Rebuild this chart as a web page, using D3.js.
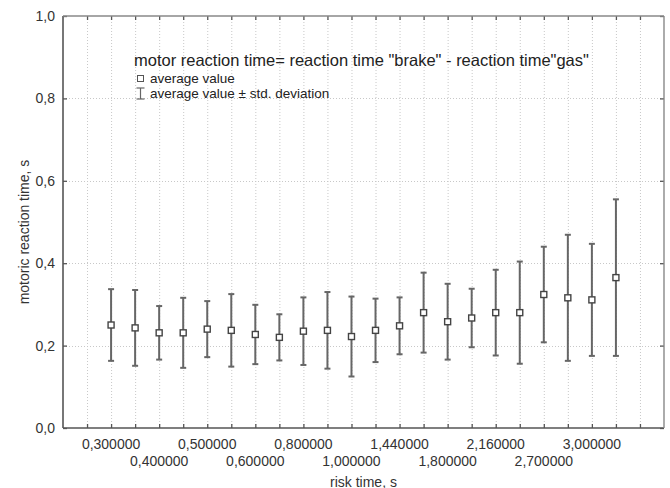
<!DOCTYPE html>
<html><head><meta charset="utf-8">
<script src="https://cdn.jsdelivr.net/npm/d3@7"></script>
<style>body{margin:0;background:#fff}svg{display:block;font-family:"Liberation Sans",Arial,sans-serif}</style>
</head><body><svg id="c" width="670" height="488"></svg>
<script>
// ---- data ----
const riskLabels = ["0,300000","0,400000","0,500000","0,600000","0,800000","1,000000","1,440000","1,800000","2,160000","2,700000","3,000000"];
const means = [0.250,0.243,0.231,0.231,0.240,0.237,0.227,0.220,0.235,0.237,0.222,0.237,0.248,0.280,0.258,0.267,0.280,0.280,0.324,0.316,0.311,0.365];
const sds   = [0.087,0.092,0.065,0.085,0.068,0.088,0.072,0.056,0.082,0.093,0.097,0.077,0.069,0.097,0.092,0.071,0.104,0.124,0.116,0.153,0.136,0.190];
const yTicks = [0,0.2,0.4,0.6,0.8,1.0];
const legendTitle = 'motor reaction time= reaction time "brake" - reaction time"gas"';
const legendItems = ["average value","average value \u00b1 std. deviation"];
const xTitle = "risk time, s";
const yTitle = "motoric reaction time, s";

// ---- layout ----
const L = 63, R = 664, T = 16, B = 428;
const nSlots = 25;
const svg = d3.select("#c");
const x = d3.scaleLinear().domain([0, nSlots]).range([L, R]);
const y = d3.scaleLinear().domain([0, 1]).range([B, T]);
const slotOf = i => i + 2;            // point i sits on slot i+2
const fmt = d3.format(".1f");

// grid
const grid = svg.append("g").attr("stroke", "#c8c8c8").attr("stroke-dasharray", "1,2").attr("stroke-width", 1);
grid.selectAll("line.v").data(d3.range(1, nSlots)).join("line")
  .attr("x1", d => x(d) + 0.5).attr("x2", d => x(d) + 0.5).attr("y1", T).attr("y2", B);
grid.selectAll("line.h").data(yTicks.slice(1, -1)).join("line")
  .attr("y1", d => Math.round(y(d)) + 0.5).attr("y2", d => Math.round(y(d)) + 0.5).attr("x1", L).attr("x2", R);

// axes (inside ticks)
const slots = d3.range(1, nSlots);
const axB = svg.append("g").attr("transform", `translate(0,${B})`)
  .call(d3.axisBottom(x).tickValues(slots).tickSize(-4).tickFormat(""));
const axT = svg.append("g").attr("transform", `translate(0,${T})`)
  .call(d3.axisTop(x).tickValues(slots).tickSize(-4).tickFormat(""));
const axL = svg.append("g").attr("transform", `translate(${L},0)`)
  .call(d3.axisLeft(y).tickValues(yTicks).tickSize(-4).tickPadding(8).tickFormat(d => fmt(d).replace(".", ",")));
const axR = svg.append("g").attr("transform", `translate(${R},0)`)
  .call(d3.axisRight(y).tickValues(yTicks).tickSize(-4).tickFormat(""));
[axB, axT, axL, axR].forEach(a => {
  a.selectAll(".tick line").attr("stroke", "#555").attr("stroke-width", 1.3);
  a.select(".domain").remove();
});
axL.selectAll("text").attr("font-size", 14).attr("fill", "#333").attr("font-family", "Liberation Sans, Arial, sans-serif");

// frame
svg.append("line").attr("x1", L).attr("x2", L).attr("y1", T).attr("y2", B).attr("stroke", "#555").attr("stroke-width", 1.6);
svg.append("line").attr("x1", L).attr("x2", R).attr("y1", B).attr("y2", B).attr("stroke", "#555").attr("stroke-width", 1.6);
svg.append("line").attr("x1", L).attr("x2", R).attr("y1", T).attr("y2", T).attr("stroke", "#888").attr("stroke-width", 1.4);
svg.append("line").attr("x1", R).attr("x2", R).attr("y1", T).attr("y2", B).attr("stroke", "#888").attr("stroke-width", 1.4);

// x labels (every other point, two rows)
const labG = svg.append("g").attr("font-size", 14).attr("fill", "#333").attr("text-anchor", "middle");
labG.selectAll("text").data(riskLabels).join("text")
  .attr("x", (d, j) => x(slotOf(2 * j)))
  .attr("y", (d, j) => j % 2 === 0 ? 448.5 : 466)
  .text(d => d);

// titles
svg.append("text").attr("x", (L + R) / 2).attr("y", 486.5).attr("text-anchor", "middle")
  .attr("font-size", 14).attr("fill", "#333").text(xTitle);
svg.append("text").attr("transform", `translate(28.5,232) rotate(-90)`).attr("text-anchor", "middle")
  .attr("font-size", 14).attr("fill", "#333").text(yTitle);

// error bars and markers
const pts = svg.append("g");
const data = means.map((m, i) => ({ i, m, lo: m - sds[i], hi: m + sds[i] }));
const eb = pts.selectAll("g.eb").data(data).join("g").attr("stroke", "#666").attr("stroke-width", 2);
eb.append("line").attr("x1", d => x(slotOf(d.i))).attr("x2", d => x(slotOf(d.i)))
  .attr("y1", d => y(d.hi)).attr("y2", d => y(d.lo));
eb.append("line").attr("x1", d => x(slotOf(d.i)) - 3).attr("x2", d => x(slotOf(d.i)) + 3)
  .attr("y1", d => y(d.hi)).attr("y2", d => y(d.hi));
eb.append("line").attr("x1", d => x(slotOf(d.i)) - 3).attr("x2", d => x(slotOf(d.i)) + 3)
  .attr("y1", d => y(d.lo)).attr("y2", d => y(d.lo));
pts.selectAll("rect").data(data).join("rect")
  .attr("x", d => x(slotOf(d.i)) - 3).attr("y", d => y(d.m) - 3)
  .attr("width", 6).attr("height", 6)
  .attr("fill", "#fff").attr("stroke", "#444").attr("stroke-width", 1.4);

// legend
const lg = svg.append("g").attr("fill", "#222");
lg.append("text").attr("x", 134).attr("y", 66).attr("font-size", 16.5).text(legendTitle);
lg.append("rect").attr("x", 137.5).attr("y", 75.5).attr("width", 6).attr("height", 6)
  .attr("fill", "#fff").attr("stroke", "#555").attr("stroke-width", 1);
lg.append("text").attr("x", 150).attr("y", 82.5).attr("font-size", 13.5).text(legendItems[0]);
const es = lg.append("g").attr("stroke", "#666").attr("stroke-width", 1.2);
es.append("line").attr("x1", 140.5).attr("x2", 140.5).attr("y1", 88).attr("y2", 99);
es.append("line").attr("x1", 136.5).attr("x2", 144.5).attr("y1", 88).attr("y2", 88);
es.append("line").attr("x1", 136.5).attr("x2", 144.5).attr("y1", 99).attr("y2", 99);
lg.append("text").attr("x", 150).attr("y", 97.5).attr("font-size", 13.5).text(legendItems[1]);
</script></body></html>
